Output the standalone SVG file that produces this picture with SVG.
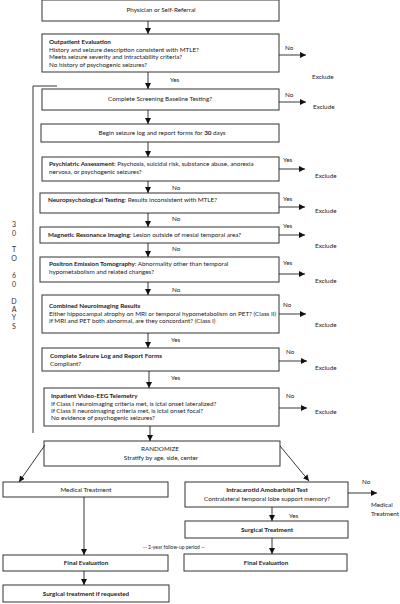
<svg xmlns="http://www.w3.org/2000/svg" width="400" height="604" viewBox="0 0 400 604">
<defs>
<marker id="ah" markerUnits="userSpaceOnUse" markerWidth="6" markerHeight="6" refX="6" refY="3" orient="auto">
<path d="M0,0 L6,3 L0,6 z" fill="#111"/>
</marker>
<style>
text{font-family:Lato,"Open Sans","Liberation Sans",sans-serif;font-size:6.3px;fill:#222}
.b{font-weight:bold}
.m{text-anchor:middle}
rect{fill:#fff;stroke:#333;stroke-width:1}
.c line,.c polyline{stroke:#222;stroke-width:0.9;fill:none}
.a{marker-end:url(#ah)}
.v{text-anchor:middle;font-size:7px;fill:#333}
</style>
</defs>
<rect x="0" y="0" width="400" height="604" style="stroke:none"/>

<g id="bracket" class="c">
<polyline points="57,86 33,86 33,433"/>
</g>
<g id="days">
<text class="v" x="14" y="227">3</text>
<text class="v" x="14" y="236">0</text>
<text class="v" x="14" y="252">T</text>
<text class="v" x="14" y="261">O</text>
<text class="v" x="14" y="278">6</text>
<text class="v" x="14" y="287">0</text>
<text class="v" x="14" y="304">D</text>
<text class="v" x="14" y="312">A</text>
<text class="v" x="14" y="320">Y</text>
<text class="v" x="14" y="329">S</text>
</g>

<g id="n1"><rect x="42" y="0" width="237" height="21"/>
<text class="m" x="161" y="12">Physician or Self-Referral</text></g>

<g id="n2"><rect x="42" y="34" width="237" height="38"/>
<text class="b" x="49" y="44">Outpatient Evaluation</text>
<text x="49" y="51.5">History and seizure description consistent with MTLE?</text>
<text x="49" y="59">Meets seizure severity and intractability criteria?</text>
<text x="49" y="66.5">No history of psychogenic seizures?</text></g>

<g id="n3"><rect x="42" y="89" width="237" height="21"/>
<text class="m" x="160" y="101">Complete Screening Baseline Testing?</text></g>

<g id="n4"><rect x="41" y="124" width="238" height="18"/>
<text class="m" x="162" y="135">Begin seizure log and report forms for <tspan class="b">30</tspan> days</text></g>

<g id="n5"><rect x="42" y="157" width="237" height="24"/>
<text x="49" y="166"><tspan class="b">Psychiatric Assessment</tspan>: Psychosis, suicidal risk, substance abuse, anorexia</text>
<text x="49" y="174">nervosa, or psychogenic seizures?</text></g>

<g id="n6"><rect x="40" y="193" width="239" height="20"/>
<text x="48" y="202"><tspan class="b">Neuropsychological Testing</tspan>: Results inconsistent with MTLE?</text></g>

<g id="n7"><rect x="40" y="227" width="239" height="16"/>
<text x="48" y="236.5"><tspan class="b">Magnetic Resonance Imaging</tspan>: Lesion outside of mesial temporal area?</text></g>

<g id="n8"><rect x="40" y="257" width="239" height="25"/>
<text x="49" y="266"><tspan class="b">Positron Emission Tomography</tspan>: Abnormality other than  temporal</text>
<text x="49" y="274">hypometabolism and related changes?</text></g>

<g id="n9"><rect x="42" y="295" width="237" height="38"/>
<text class="b" x="49" y="308">Combined Neuroimaging Results</text>
<text x="49" y="315.5">Either hippocampal atrophy on MRI or temporal hypometabolism on PET? (Class II)</text>
<text x="49" y="322.5">If MRI and PET both abnormal, are they concordant? (Class I)</text></g>

<g id="n10"><rect x="42" y="348" width="237" height="23"/>
<text class="b" x="50" y="358">Complete Seizure Log and Report Forms</text>
<text x="50" y="365.5">Compliant?</text></g>

<g id="n11"><rect x="44" y="388" width="235" height="38"/>
<text class="b" x="51" y="398">Inpatient Video-EEG Telemetry</text>
<text x="51" y="405.5">If Class I neuroimaging criteria met, is ictal onset lateralized?</text>
<text x="51" y="412.5">If Class II neuroimaging criteria met, is ictal onset focal?</text>
<text x="51" y="420">No evidence of psychogenic seizures?</text></g>

<g id="n12"><rect x="44" y="441" width="236" height="25"/>
<text class="m" x="160" y="451">RANDOMIZE</text>
<text class="m" x="161" y="460">Stratify by age, side, center</text></g>

<g id="n13"><rect x="3" y="482" width="165" height="15"/>
<text class="m" x="86" y="491.5">Medical Treatment</text></g>

<g id="n14"><rect x="3" y="555" width="165" height="16"/>
<text class="m b" x="86" y="565">Final Evaluation</text></g>

<g id="n15"><rect x="3" y="585" width="166" height="17"/>
<text class="m b" x="86" y="595.5">Surgical treatment if requested</text></g>

<g id="n16"><rect x="185" y="482" width="163" height="25"/>
<text class="m b" x="267" y="491.5">Intracarotid Amobarbital Test</text>
<text class="m" x="267" y="501">Contralateral temporal lobe support memory?</text></g>

<g id="n17"><rect x="185" y="521" width="163" height="17"/>
<text class="m b" x="267" y="531.5">Surgical Treatment</text></g>

<g id="n18"><rect x="184" y="554" width="163" height="17"/>
<text class="m b" x="266" y="564.5">Final Evaluation</text></g>

<g id="connectors" class="c">
<line class="a" x1="148" y1="21" x2="148" y2="34"/>
<line class="a" x1="148" y1="72" x2="148" y2="89"/>
<line class="a" x1="148" y1="110" x2="148" y2="124"/>
<line class="a" x1="148" y1="142" x2="148" y2="157"/>
<line class="a" x1="148" y1="181" x2="148" y2="193"/>
<line class="a" x1="148" y1="213" x2="148" y2="227"/>
<line class="a" x1="148" y1="243" x2="148" y2="257"/>
<line class="a" x1="148" y1="282" x2="148" y2="295"/>
<line class="a" x1="148" y1="333" x2="148" y2="348"/>
<line class="a" x1="149" y1="371" x2="149" y2="388"/>
<line class="a" x1="150" y1="426" x2="150" y2="441"/>
<line class="a" x1="279" y1="55" x2="306" y2="55"/>
<line class="a" x1="279" y1="102" x2="306" y2="102"/>
<line class="a" x1="279" y1="169" x2="305" y2="169"/>
<line class="a" x1="279" y1="207" x2="305" y2="207"/>
<line class="a" x1="279" y1="235" x2="305" y2="235"/>
<line class="a" x1="279" y1="274" x2="305" y2="274"/>
<line class="a" x1="279" y1="314" x2="306" y2="314"/>
<line class="a" x1="279" y1="361" x2="307" y2="361"/>
<line class="a" x1="279" y1="408" x2="307" y2="408"/>
<line class="a" x1="45" y1="445" x2="19" y2="482"/>
<line class="a" x1="280" y1="446" x2="309" y2="481"/>
<line class="a" x1="84" y1="497" x2="84" y2="555"/>
<line class="a" x1="84" y1="571" x2="84" y2="585"/>
<line class="a" x1="348" y1="493" x2="377" y2="493"/>
<line class="a" x1="272" y1="507" x2="272" y2="521"/>
<line class="a" x1="272" y1="538" x2="272" y2="554"/>
</g>

<g id="labels">
<text x="285" y="50">No</text>
<text x="312" y="79">Exclude</text>
<text x="170" y="82">Yes</text>
<text x="285" y="97">No</text>
<text x="313" y="109">Exclude</text>
<text x="283" y="162">Yes</text>
<text x="315" y="178">Exclude</text>
<text x="172" y="190">No</text>
<text x="283" y="201">Yes</text>
<text x="315" y="213">Exclude</text>
<text x="172" y="221">No</text>
<text x="283" y="228">Yes</text>
<text x="315" y="248">Exclude</text>
<text x="172" y="251">No</text>
<text x="283" y="265">Yes</text>
<text x="315" y="283">Exclude</text>
<text x="172" y="292">No</text>
<text x="283" y="307">No</text>
<text x="315" y="327">Exclude</text>
<text x="171" y="342">Yes</text>
<text x="286" y="354">No</text>
<text x="315" y="370">Exclude</text>
<text x="171" y="380">Yes</text>
<text x="286" y="398">No</text>
<text x="315" y="414">Exclude</text>
<text x="362" y="484">No</text>
<text x="371" y="507">Medical</text>
<text x="371" y="516">Treatment</text>
<text x="289" y="518">Yes</text>
<text class="m" x="174" y="549" style="font-size:5px">-- 2-year follow-up period --</text>
</g>
</svg>
